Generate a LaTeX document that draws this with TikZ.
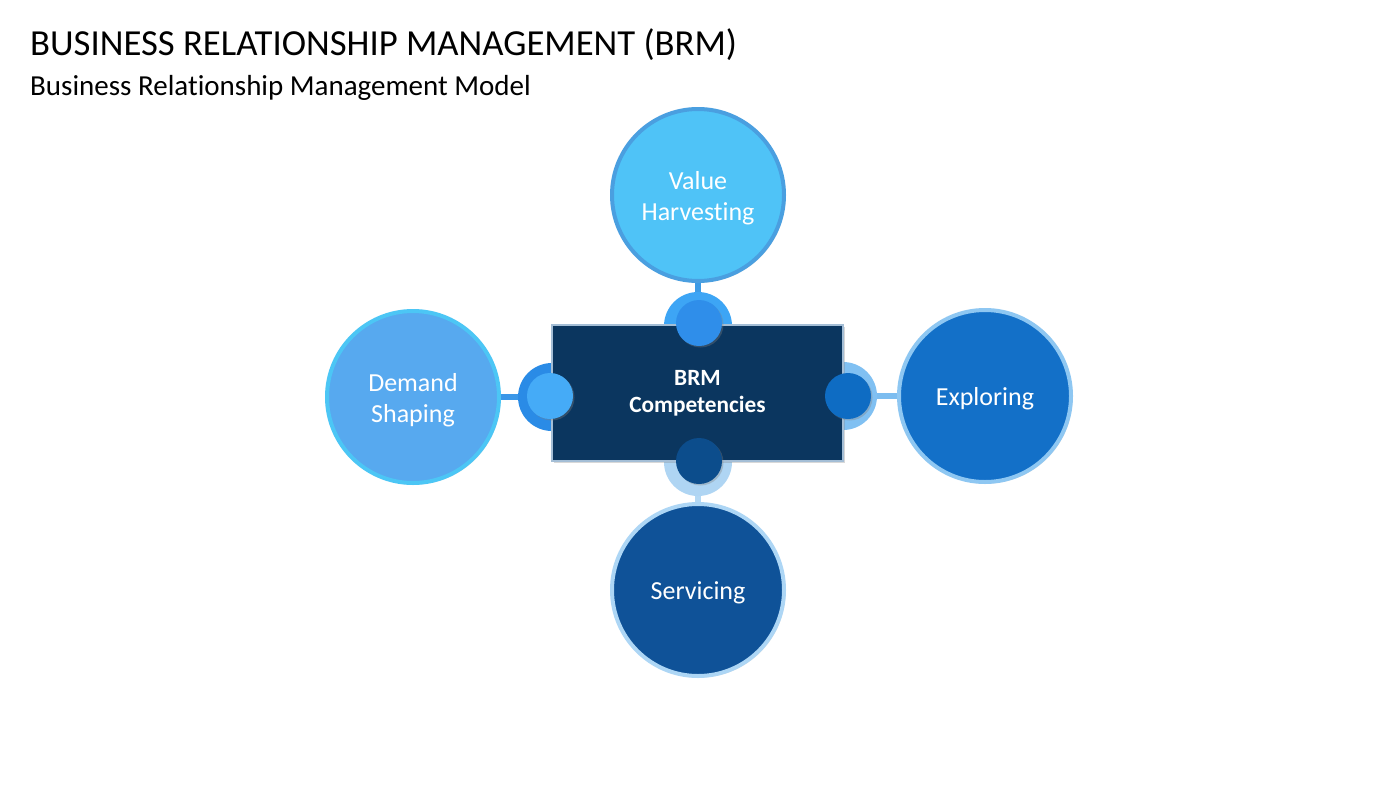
\documentclass[tikz,border=0pt]{standalone}
\usepackage{fontspec}
\setmainfont[Ligatures=NoCommon]{Carlito}
\usetikzlibrary{shadows}
\definecolor{navy}{HTML}{0B365F}
\definecolor{rectedge}{HTML}{A4BED6}
\definecolor{vhfill}{HTML}{4FC3F7}
\definecolor{vhedge}{HTML}{4A9FE0}
\definecolor{vhring}{HTML}{3DA5F5}
\definecolor{vhdot}{HTML}{2F8EEA}
\definecolor{vhline}{HTML}{3D9BE6}
\definecolor{dsfill}{HTML}{57A9EF}
\definecolor{dsedge}{HTML}{4CC6F5}
\definecolor{dsring}{HTML}{2A8BE6}
\definecolor{dsdot}{HTML}{45ABF7}
\definecolor{dsline}{HTML}{3A97E8}
\definecolor{exfill}{HTML}{1370C8}
\definecolor{exedge}{HTML}{8EC7F2}
\definecolor{exring}{HTML}{80C0F2}
\definecolor{exdot}{HTML}{0E6CC3}
\definecolor{exline}{HTML}{7CBDF0}
\definecolor{sefill}{HTML}{0F5298}
\definecolor{seedge}{HTML}{ADD6F5}
\definecolor{sering}{HTML}{AFD5F3}
\definecolor{sedot}{HTML}{0C4D8C}
\definecolor{seline}{HTML}{B3D8F4}
\tikzset{
  big/.style={circle, minimum size=172pt, inner sep=0pt, line width=4pt,
    drop shadow={shadow xshift=1.5pt, shadow yshift=-1.5pt, opacity=0.25}},
  biglabel/.style={text=white, font=\fontsize{26}{31}\selectfont, align=center,
    inner sep=0pt, yshift=-3pt},
  ringc/.style={circle, minimum size=68pt, inner sep=0pt},
  dotc/.style={circle, minimum size=46pt, inner sep=0pt,
    drop shadow={shadow xshift=1.5pt, shadow yshift=-1.5pt, opacity=0.35}},
  link/.style={line width=6pt}
}
\begin{document}
\begin{tikzpicture}[x=1pt,y=-1pt]
\useasboundingbox (0,0) rectangle (1400,785);
\fill[white] (0,0) rectangle (1400,785);
% titles
\node[anchor=base west, inner sep=0pt, font=\fontsize{36.7}{40}\selectfont] (title) at (30,55) {BUSINESS RELATIONSHIP MANAGEMENT (BRM)};
\node[anchor=base west, inner sep=0pt, font=\fontsize{29}{32}\selectfont] (sub) at (30,95) {Business Relationship Management Model};
% anchor points
\coordinate (ctop) at (698,326);
\coordinate (cleft) at (552,397);
\coordinate (cright) at (843,396);
\coordinate (cbot) at (698,462);
% outer circles
\node[big, fill=vhfill, draw=vhedge, label={[biglabel, name=vht]center:{Value\\Harvesting}}] (vh) at (698,195) {};
\node[big, fill=dsfill, draw=dsedge, label={[biglabel, name=dst]center:{Demand\\Shaping}}] (ds) at (413,397) {};
\node[big, fill=exfill, draw=exedge, label={[biglabel, name=ext]center:{Exploring}}] (ex) at (985,396) {};
\node[big, fill=sefill, draw=seedge, label={[biglabel, name=set]center:{Servicing}}] (se) at (698,590) {};
% connectors
\draw[link, vhline] (vh.south) -- (ctop);
\draw[link, dsline] (ds.east) -- (cleft);
\draw[link, exline] (ex.west) -- (cright);
\draw[link, seline] (se.north) -- (cbot);
% rings
\node[ringc, fill=vhring] (rt) at (ctop) {};
\node[ringc, fill=dsring] (rl) at (cleft) {};
\node[ringc, fill=exring] (rr) at (cright) {};
\node[ringc, fill=sering] (rb) at (cbot) {};
% central rectangle
\node[draw=rectedge, line width=1.5pt, fill=navy, minimum width=291pt, minimum height=136pt,
  inner sep=0pt, text=white, align=center, font=\bfseries\fontsize{23.3}{27}\selectfont,
  drop shadow={shadow xshift=2pt, shadow yshift=-2pt, opacity=0.3}]
  (brm) at (697.5,393) {BRM\\Competencies};
% dots
\node[dotc, fill=vhdot] (dt) at (699,323) {};
\node[dotc, fill=dsdot] (dl) at (550,396) {};
\node[dotc, fill=exdot] (dr) at (848,396) {};
\node[dotc, fill=sedot] (db) at (699,461) {};
\end{tikzpicture}
\end{document}
